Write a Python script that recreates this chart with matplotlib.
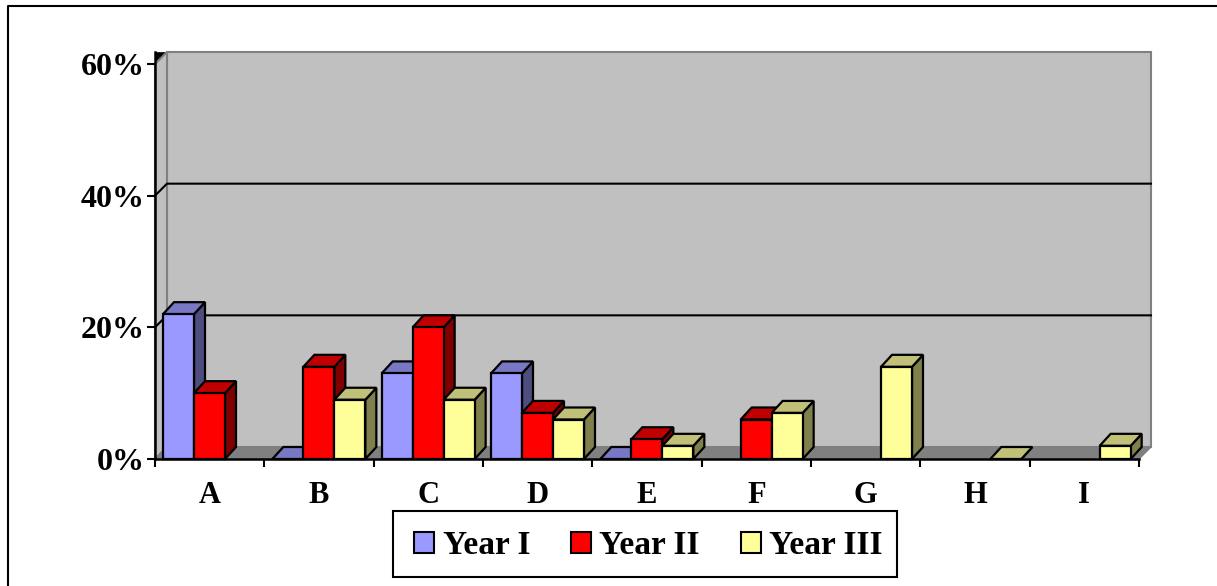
import matplotlib
matplotlib.use("Agg")
import matplotlib.pyplot as plt
import numpy as np
from matplotlib.patches import Patch, Polygon

categories = ["A", "B", "C", "D", "E", "F", "G", "H", "I"]
year_1 = [22, 0, 13, 13, 0, np.nan, np.nan, np.nan, np.nan]
year_2 = [10, 14, 20, 7, 3, 6, np.nan, np.nan, np.nan]
year_3 = [np.nan, 9, 9, 6, 2, 7, 14, 0, 2]
y_ticks = [0, 20, 40, 60]

series = [
    ("Year I", year_1, "#9999FF", "#7878C4", "#4D4D80"),
    ("Year II", year_2, "#FF0000", "#C00000", "#800000"),
    ("Year III", year_3, "#FFFF99", "#C0C078", "#80804D"),
]

W, H = 1217, 586
plt.rcParams["font.family"] = ["Liberation Serif", "DejaVu Serif"]
plt.rcParams["font.weight"] = "bold"

fig = plt.figure(figsize=(W / 100, H / 100), dpi=100)
fig.patch.set_facecolor("white")

# outer frame: left and top edges only, both run off the canvas
fig.add_artist(plt.Line2D([8 / W, 8 / W, 1], [0, 1 - 6 / H, 1 - 6 / H],
                          color="black", lw=1.5, transform=fig.transFigure))

left, right, bottom, top = 155, 1139, 459, 64
ax = fig.add_axes([left / W, 1 - bottom / H, (right - left) / W, (bottom - top) / H])
ax.set_xlim(0, len(categories))
ax.set_ylim(0, 60)
ax.patch.set_visible(False)

px_x = len(categories) / (right - left)
px_y = 60 / (bottom - top)
wall_dx, wall_dy = 12 * px_x, 12 * px_y
bar_dx, bar_dy = 11 * px_x, 12 * px_y

n_cat = len(categories)


def poly(points, **kw):
    ax.add_patch(Polygon(points, closed=True, clip_on=False, **kw))


# small black wedge where the side wall meets the top of the axis
poly([(0, 60), (0, 60 + wall_dy), (wall_dx, 60 + wall_dy)], facecolor="black", edgecolor="black", lw=0.5, zorder=0.5)

# back wall, side wall, floor
poly([(wall_dx, wall_dy), (n_cat + wall_dx, wall_dy), (n_cat + wall_dx, 60 + wall_dy), (wall_dx, 60 + wall_dy)],
     facecolor="#C0C0C0", edgecolor="#808080", lw=1.5, zorder=1)
poly([(0, 0), (wall_dx, wall_dy), (wall_dx, 60 + wall_dy), (0, 60)],
     facecolor="#C0C0C0", edgecolor="#808080", lw=1.5, zorder=1)
poly([(0, 0), (n_cat, 0), (n_cat + wall_dx, wall_dy), (wall_dx, wall_dy)],
     facecolor="#808080", edgecolor="#808080", lw=1, zorder=1)

for t in y_ticks[1:3]:
    ax.plot([0, wall_dx, n_cat + wall_dx], [t, t + wall_dy, t + wall_dy],
            color="black", lw=1.5, clip_on=False, zorder=2)

bar_w = 31 * px_x
bar_off = 8 * px_x
z = 3
for i in range(n_cat):
    for j, (_, vals, front, top_c, side_c) in enumerate(series):
        v = vals[i]
        if np.isnan(v):
            continue
        x0 = i + bar_off + j * bar_w
        x1 = x0 + bar_w
        edge = dict(edgecolor="black", lw=1.6, joinstyle="miter")
        poly([(x1, 0), (x1 + bar_dx, bar_dy), (x1 + bar_dx, v + bar_dy), (x1, v)],
             facecolor=side_c, zorder=z, **edge)
        poly([(x0, v), (x1, v), (x1 + bar_dx, v + bar_dy), (x0 + bar_dx, v + bar_dy)],
             facecolor=top_c, zorder=z, **edge)
        if v > 0:
            ax.bar(x0, v, width=bar_w, align="edge", color=front, zorder=z,
                   clip_on=False, **edge)
        z += 1

for s in ("top", "right"):
    ax.spines[s].set_visible(False)
for s in ("left", "bottom"):
    ax.spines[s].set_linewidth(1.8)
    ax.spines[s].set_zorder(60)
ax.spines["left"].set_bounds(0, 60 + wall_dy)

ax.set_yticks(y_ticks)
ax.set_yticklabels([f"{t}%" for t in y_ticks], fontsize=23, fontweight="bold")
ax.set_xticks(range(n_cat + 1))
ax.set_xticklabels([])
ax.set_xticks(np.arange(n_cat) + 0.5, labels=categories, minor=True, fontsize=22, fontweight="bold")
ax.tick_params(axis="x", which="major", length=6, width=1.5, direction="out")
ax.tick_params(axis="x", which="minor", length=0, pad=16)
ax.tick_params(axis="y", length=6, width=1.5, pad=1.5)

handles = [Patch(facecolor=s[2], edgecolor="black", lw=1.5, label=s[0]) for s in series]
leg = ax.legend(handles=handles, ncols=3, loc="center",
                bbox_to_anchor=(645 / W, 1 - 544 / H),
                bbox_transform=fig.transFigure, fontsize=24,
                fancybox=False, framealpha=1, edgecolor="black",
                handlelength=0.6, handleheight=0.6, handletextpad=0.28,
                borderaxespad=0, borderpad=0.53, columnspacing=1.2)
leg.get_frame().set_linewidth(1.5)
leg.set_zorder(100)

# nudge legend entries inside the box
for txt in leg.get_texts():
    txt.set_position((3, -2))
for h in leg.legend_handles:
    h.set_x(h.get_x() + 3)
    h.set_y(h.get_y() - 1.5)

fig.savefig("out.png", dpi=100)
